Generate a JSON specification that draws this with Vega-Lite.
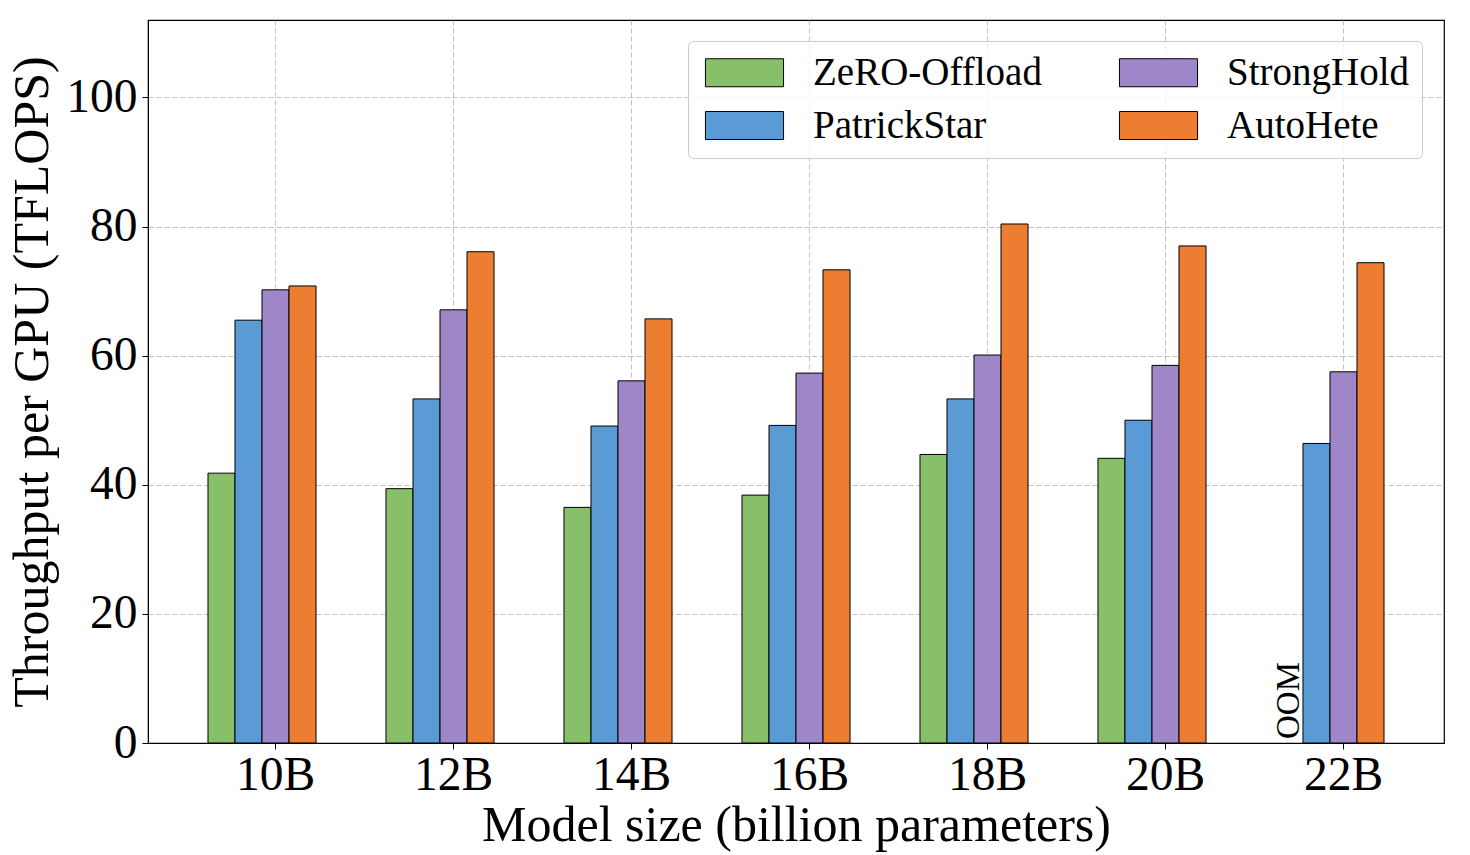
{
  "$schema": "https://vega.github.io/schema/vega-lite/v6.json",
  "autosize": {"type": "none"},
  "padding": {"left": 148, "top": 20, "right": 26, "bottom": 112},
  "width": 1296,
  "height": 723,
  "background": "white",
  "config": {
    "view": {"stroke": "black", "strokeWidth": 1.2},
    "font": "Liberation Serif",
    "axis": {
      "labelFont": "Liberation Serif",
      "titleFont": "Liberation Serif",
      "labelColor": "black",
      "titleColor": "black",
      "titleFontWeight": "normal",
      "domainColor": "black",
      "tickColor": "black",
      "tickSize": 6,
      "gridColor": "#b0b0b0",
      "gridDash": [5, 3],
      "gridWidth": 0.8,
      "zindex": 1
    }
  },
  "data": {
    "values": [
      {"size": "10B", "method": "ZeRO-Offload", "tflops": 41.8},
      {"size": "10B", "method": "PatrickStar", "tflops": 65.5},
      {"size": "10B", "method": "StrongHold", "tflops": 70.2},
      {"size": "10B", "method": "AutoHete", "tflops": 70.8},
      {"size": "12B", "method": "ZeRO-Offload", "tflops": 39.4},
      {"size": "12B", "method": "PatrickStar", "tflops": 53.3},
      {"size": "12B", "method": "StrongHold", "tflops": 67.1},
      {"size": "12B", "method": "AutoHete", "tflops": 76.1},
      {"size": "14B", "method": "ZeRO-Offload", "tflops": 36.5},
      {"size": "14B", "method": "PatrickStar", "tflops": 49.1},
      {"size": "14B", "method": "StrongHold", "tflops": 56.1},
      {"size": "14B", "method": "AutoHete", "tflops": 65.7},
      {"size": "16B", "method": "ZeRO-Offload", "tflops": 38.4},
      {"size": "16B", "method": "PatrickStar", "tflops": 49.2},
      {"size": "16B", "method": "StrongHold", "tflops": 57.3},
      {"size": "16B", "method": "AutoHete", "tflops": 73.3},
      {"size": "18B", "method": "ZeRO-Offload", "tflops": 44.7},
      {"size": "18B", "method": "PatrickStar", "tflops": 53.3},
      {"size": "18B", "method": "StrongHold", "tflops": 60.1},
      {"size": "18B", "method": "AutoHete", "tflops": 80.4},
      {"size": "20B", "method": "ZeRO-Offload", "tflops": 44.1},
      {"size": "20B", "method": "PatrickStar", "tflops": 50.0},
      {"size": "20B", "method": "StrongHold", "tflops": 58.5},
      {"size": "20B", "method": "AutoHete", "tflops": 77.0},
      {"size": "22B", "method": "ZeRO-Offload", "tflops": 0, "note": "OOM"},
      {"size": "22B", "method": "PatrickStar", "tflops": 46.4},
      {"size": "22B", "method": "StrongHold", "tflops": 57.5},
      {"size": "22B", "method": "AutoHete", "tflops": 74.4}
    ]
  },
  "encoding": {
    "x": {
      "field": "size",
      "type": "nominal",
      "sort": null,
      "scale": {"paddingInner": 0.393, "paddingOuter": 0.337},
      "axis": {
        "title": "Model size (billion parameters)",
        "labelAngle": 0,
        "labelFontSize": 47.5,
        "titleFontSize": 50,
        "labelPadding": 2,
        "labelOffset": 13.5,
        "titlePadding": 2,
        "bandPosition": 0.625,
        "grid": true
      }
    },
    "xOffset": {
      "field": "method",
      "type": "nominal",
      "scale": {"domain": ["ZeRO-Offload", "PatrickStar", "StrongHold", "AutoHete"]}
    },
    "y": {
      "field": "tflops",
      "type": "quantitative",
      "scale": {"domain": [0, 112], "nice": false},
      "axis": {
        "title": "Throughput per GPU (TFLOPS)",
        "values": [0, 20, 40, 60, 80, 100],
        "labelFontSize": 47.5,
        "titleFontSize": 50,
        "labelPadding": 5,
        "titlePadding": 8,
        "grid": true
      }
    }
  },
  "layer": [
    {
      "transform": [{"filter": "datum.note != 'OOM'"}],
      "mark": {"type": "bar", "stroke": "black", "strokeWidth": 1},
      "encoding": {
        "color": {
          "field": "method",
          "type": "nominal",
          "scale": {
            "domain": ["ZeRO-Offload", "PatrickStar", "StrongHold", "AutoHete"],
            "range": ["#88c06a", "#5b9bd5", "#9e86c8", "#ed7d31"]
          },
          "legend": {
            "title": null,
            "orient": "none",
            "legendX": 540,
            "legendY": 21,
            "columns": 2,
            "columnPadding": 72,
            "rowPadding": 13,
            "padding": 12,
            "labelFont": "Liberation Serif",
            "labelFontSize": 39,
            "labelColor": "black",
            "labelOffset": 49,
            "labelLimit": 400,
            "symbolType": "M-2.79,-1H2.79V1H-2.79Z",
            "symbolSize": 784,
            "symbolOffset": 25,
            "symbolStrokeColor": "black",
            "symbolStrokeWidth": 1,
            "symbolOpacity": 1,
            "strokeColor": "#cccccc",
            "fillColor": "rgba(255,255,255,0.8)",
            "cornerRadius": 5,
            "zindex": 2
          }
        }
      }
    },
    {
      "transform": [{"filter": "datum.note == 'OOM'"}],
      "mark": {
        "type": "text",
        "angle": 270,
        "align": "left",
        "baseline": "middle",
        "dx": 4,
        "fontSize": 33,
        "font": "Liberation Serif",
        "color": "black"
      },
      "encoding": {"text": {"field": "note"}}
    }
  ]
}
